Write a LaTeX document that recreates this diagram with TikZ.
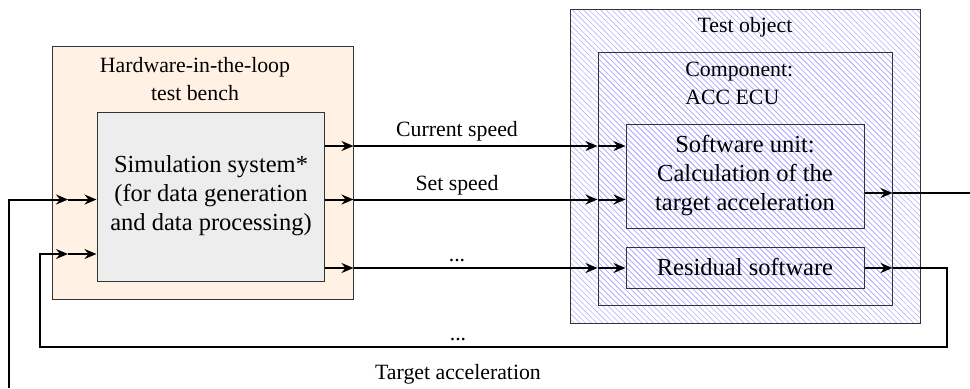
\documentclass[tikz,border=0pt]{standalone}
\usepackage{fontspec}
\setmainfont{Liberation Serif}
\usetikzlibrary{arrows.meta,patterns.meta,fit}
\begin{document}
\begin{tikzpicture}[x=0.5pt,y=-0.5pt,
  frame/.style={draw=black!80, line width=0.5pt, inner sep=0pt},
  hilbox/.style={frame, fill=orange!10},
  simbox/.style={frame, fill=black!7},
  hatchbox/.style={frame, pattern={Lines[angle=-45,distance=2pt,line width=0.3pt]}, pattern color=blue!30},
  title/.style={font=\fontsize{10.9}{13.65}\selectfont, inner sep=0pt, anchor=base, align=center},
  big/.style={font=\fontsize{12.25}{14.5}\selectfont, inner sep=0pt, anchor=base, align=center},
  lbl/.style={font=\fontsize{10.9}{13}\selectfont, inner sep=0pt, anchor=base},
  arr/.style={draw, line width=1pt, -{Stealth[length=6pt,width=5pt,inset=2pt]}},
  wire/.style={draw, line width=1pt},
]
\useasboundingbox (0,0) rectangle (970,388);

% boxes
\node[hilbox, fit={(52,46)(353,299)}] (hil) {};
\node[simbox, fit={(97,112)(324,281)}] (sim) {};
\node[hatchbox, fit={(570,9)(920,323)}] (tobj) {};
\node[hatchbox, fit={(598,52)(892,305)}] (comp) {};
\node[hatchbox, fit={(626,124)(864,228)}] (swu) {};
\node[hatchbox, fit={(626,247)(864,288)}] (res) {};

% texts (base anchor = baseline of last line)
\node[title] (hiltitle) at (195,100) {Hardware-in-the-loop\\test bench};
\node[big] (simtext) at (211,230.7) {Simulation system*\\(for data generation\\and data processing)};
\node[title] (tobjtitle) at (745,32.7) {Test object};
\node[title, anchor=base west, align=left, font=\fontsize{10.9}{13.75}\selectfont] (comptitle) at (685,104) {Component:\\ACC ECU};
\node[big] (swutext) at (745,210.7) {Software unit:\\Calculation of the\\target acceleration};
\node[big] (restext) at (745,275.3) {Residual software};

% port coordinates
\coordinate (yA) at (0,146);
\coordinate (yB) at (0,199.5);
\coordinate (yC) at (0,268);
\coordinate (yT) at (0,193);
\coordinate (in1) at (68,199.5);
\coordinate (in2) at (68,254);
\coordinate (taend) at (970,193);
\coordinate (tastart) at (9,388);
\coordinate (lpR) at (947,347);
\coordinate (lpL) at (40,347);

% current speed
\draw[arr] (sim.east|-yA) -- (hil.east|-yA);
\draw[arr] (hil.east|-yA) -- (comp.west|-yA);
\draw[arr] (comp.west|-yA) -- (swu.west|-yA);
% set speed
\draw[arr] (sim.east|-yB) -- (hil.east|-yB);
\draw[arr] (hil.east|-yB) -- (comp.west|-yB);
\draw[arr] (comp.west|-yB) -- (swu.west|-yB);
% dots
\draw[arr] (sim.east|-yC) -- (hil.east|-yC);
\draw[arr] (hil.east|-yC) -- (comp.west|-yC);
\draw[arr] (comp.west|-yC) -- (res.west|-yC);

% target acceleration out
\draw[arr] (swu.east|-yT) -- (comp.east|-yT);
\draw[wire] (comp.east|-yT) -- (taend);
% target acceleration in
\draw[arr] (tastart) |- (in1);
\draw[arr] (in1) -- (sim.west|-in1);

% residual loop
\draw[arr] (res.east|-yC) -- (comp.east|-yC);
\draw[arr] (comp.east|-yC) -| (lpR) -- (lpL) |- (in2);
\draw[arr] (in2) -- (sim.west|-in2);

% labels
\node[lbl] (lcur) at (457,136.7) {Current speed};
\node[lbl] (lset) at (457,190) {Set speed};
\node[lbl] (ldots) at (457,261.5) {...};
\node[lbl] (ldots2) at (458,340) {...};
\node[lbl] (lta) at (458,379) {Target acceleration};
\end{tikzpicture}
\end{document}
